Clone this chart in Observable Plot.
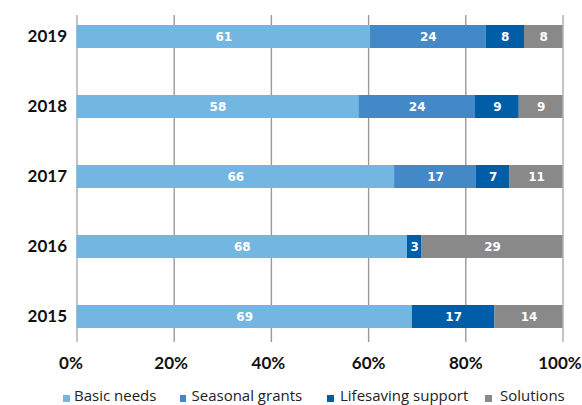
<!DOCTYPE html>
<html>
<head>
<meta charset="utf-8">
<script src="https://cdn.jsdelivr.net/npm/d3@7"></script>
<script src="https://cdn.jsdelivr.net/npm/@observablehq/plot@0.6"></script>
<style>
  html, body { margin: 0; padding: 0; background: #fff; }
  #chart { width: 582px; font-family: Lato, "Open Sans", sans-serif; }
  .legend { position: relative; height: 33px; font-family: "Open Sans", Lato, sans-serif; font-size: 15px; color: #222; }
  .legend .txt { position: absolute; top: 14px; white-space: nowrap; line-height: 18px; }
  .legend .sw { position: absolute; top: 23px; width: 6.5px; height: 6.5px; }
</style>
</head>
<body>
<div id="chart"></div>
<script>
const years = ["2019", "2018", "2017", "2016", "2015"];
const categories = ["Basic needs", "Seasonal grants", "Lifesaving support", "Solutions"];
const colors = ["#72b6e1", "#4389c8", "#005ea9", "#898989"];
const basicNeeds      = [61, 58, 66, 68, 69];
const seasonalGrants  = [24, 24, 17, 0, 0];
const lifesaving      = [8, 9, 7, 3, 17];
const solutions       = [8, 9, 11, 29, 14];
const xTicks = [0, 0.2, 0.4, 0.6, 0.8, 1];

const series = [basicNeeds, seasonalGrants, lifesaving, solutions];
const data = [];
years.forEach((y, i) => {
  categories.forEach((c, j) => {
    const v = series[j][i];
    if (v > 0) data.push({year: y, category: c, value: v});
  });
});

const stackOpts = {x: "value", y: "year", z: "category", offset: "normalize", order: categories};
const pct = d => Math.round(d * 100) + "%";
const axisStyle = {tickSize: 0, tickPadding: 14, label: null, tickFormat: pct, fontSize: 17, fontWeight: "bold", fill: "#111"};

const plot = Plot.plot({
  width: 582,
  height: 372,
  marginLeft: 76.5,
  marginRight: 19.5,
  marginTop: 15,
  marginBottom: 30,
  style: {fontFamily: "Lato, 'Open Sans', sans-serif", background: "#fff", overflow: "visible"},
  x: {domain: [0, 1], axis: null, label: null},
  y: {domain: years, range: [24, 328.2], paddingInner: 0.673, paddingOuter: 0, axis: null, label: null},
  color: {domain: categories, range: colors},
  marks: [
    Plot.ruleX(xTicks.filter(d => d > 0 && d < 1), {stroke: "#9a9a9a", strokeWidth: 1.4}),
    Plot.ruleX([0, 1], {stroke: "#c4c4c4", strokeWidth: 2}),
    Plot.barX(data, Plot.stackX({...stackOpts, fill: "category"})),
    Plot.text(data, Plot.stackX({...stackOpts, text: "value", fill: "#fff", fontWeight: "bold", fontSize: 12, fontFamily: "'DejaVu Sans', sans-serif"})),
    Plot.axisX({...axisStyle, ticks: [0], dx: -6}),
    Plot.axisX({...axisStyle, ticks: [0.2, 0.4], dx: -3}),
    Plot.axisX({...axisStyle, ticks: [0.6, 0.8]}),
    Plot.axisX({...axisStyle, ticks: [1], dx: -3}),
    Plot.axisY({tickSize: 0, tickPadding: 10, label: null, fontSize: 17, fontWeight: "bold", fill: "#111"})
  ]
});
document.getElementById("chart").appendChild(plot);

const legend = document.createElement("div");
legend.className = "legend";
const swatchLefts = [63, 179.5, 327, 485];
const textLefts = [74, 191.5, 340, 500];
categories.forEach((c, j) => {
  const sw = document.createElement("div");
  sw.className = "sw";
  sw.style.left = swatchLefts[j] + "px";
  sw.style.background = colors[j];
  legend.appendChild(sw);
  const t = document.createElement("div");
  t.className = "txt";
  t.style.left = textLefts[j] + "px";
  t.textContent = c;
  legend.appendChild(t);
});
document.getElementById("chart").appendChild(legend);
</script>
</body>
</html>
